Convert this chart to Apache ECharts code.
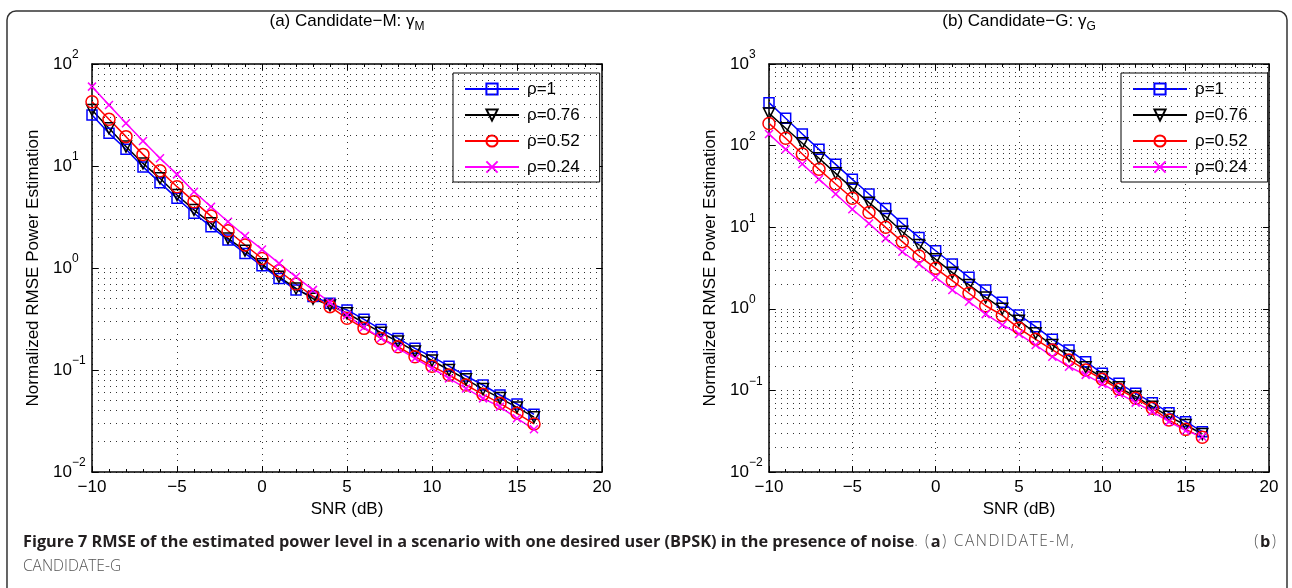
<!DOCTYPE html>
<html>
<head>
<meta charset="utf-8">
<script src="https://cdn.jsdelivr.net/npm/echarts@6/dist/echarts.min.js"></script>
<style>
html,body{margin:0;padding:0;background:#fff;}
#c{width:1292px;height:588px;}
</style>
</head>
<body>
<div id="c"></div>
<script>
// ---------- data ----------
const snr = [-10,-9,-8,-7,-6,-5,-4,-3,-2,-1,0,1,2,3,4,5,6,7,8,9,10,11,12,13,14,15,16];
const seriesNames = ['ρ=1','ρ=0.76','ρ=0.52','ρ=0.24'];

// panel (a) Candidate-M
const aRho1   = [31.6,20.9,14.6,9.8,6.87,4.82,3.44,2.54,1.88,1.39,1.05,0.79,0.61,0.525,0.45,0.388,0.314,0.25,0.204,0.163,0.135,0.109,0.0873,0.0713,0.0569,0.0464,0.0368];
const aRho076 = [35.4,23.4,15.5,10.6,7.57,5.2,3.71,2.74,1.95,1.48,1.09,0.82,0.63,0.5,0.43,0.36,0.29,0.232,0.19,0.152,0.124,0.1,0.081,0.065,0.053,0.043,0.0345];
const aRho052 = [42.7,28.7,19.4,13.0,9.0,6.27,4.47,3.23,2.32,1.68,1.24,0.94,0.697,0.531,0.418,0.321,0.256,0.204,0.169,0.135,0.109,0.0893,0.0713,0.0577,0.0471,0.0376,0.0296];
const aRho024 = [60,39.6,26.2,17.6,11.9,8.28,5.6,3.99,2.84,2.06,1.52,1.11,0.82,0.61,0.46,0.345,0.262,0.205,0.163,0.13,0.104,0.0828,0.066,0.0527,0.0436,0.0336,0.0262];

// panel (b) Candidate-G
const bRho1   = [336,216,139,90,58.9,38.6,25.5,17.0,11.1,7.5,5.15,3.54,2.43,1.70,1.2,0.84,0.604,0.423,0.313,0.225,0.162,0.122,0.092,0.0708,0.0534,0.0414,0.0312];
const bRho076 = [248,163,107,69.9,45.7,29.9,20.0,13.5,8.8,6.05,4.04,2.77,1.96,1.38,1.0,0.716,0.501,0.36,0.264,0.192,0.145,0.109,0.0838,0.0632,0.0477,0.0377,0.0292];
const bRho052 = [187,123,78.9,51.2,33.8,22.6,15.1,9.96,6.65,4.44,3.13,2.21,1.55,1.09,0.83,0.577,0.423,0.313,0.236,0.178,0.137,0.103,0.08,0.0603,0.0433,0.0333,0.0266];
const bRho024 = [139,90,59.5,38.6,25.5,16.6,11.1,7.3,5.0,3.54,2.43,1.70,1.22,0.86,0.634,0.491,0.36,0.259,0.195,0.155,0.12,0.092,0.0708,0.055,0.0414,0.0321,0.0271];

const titleA = '(a) Candidate−M: γ';
const titleASub = 'M';
const titleB = '(b) Candidate−G: γ';
const titleBSub = 'G';
const xName = 'SNR (dB)';
const yName = 'Normalized RMSE Power Estimation';
const captionBold = 'Figure 7 RMSE of the estimated power level in a scenario with one desired user (BPSK) in the presence of noise';

// ---------- styling ----------
const F = "'Liberation Sans', Arial, sans-serif";
const CF = "'Open Sans', 'Noto Sans', sans-serif";
const styles = [
  {color:'#0000ff', symbol:'rect', size:10, rotate:0},
  {color:'#000000', symbol:'triangle', size:11, rotate:180},
  {color:'#ff0000', symbol:'circle', size:12, rotate:0},
  {color:'#ff00ff', symbol:'path://M0,0L10,10M10,0L0,10', size:8, rotate:0}
];
const grids = [
  {left:92, top:64, width:510, height:408},
  {left:769, top:64, width:500, height:408}
];
const yRanges = [[0.01,100],[0.01,1000]];

function supLabel(v){
  const e = Math.round(Math.log10(v));
  return '{b|10}{s|' + (e < 0 ? '−' + (-e) : String(e)) + '}';
}
const dotted = {type:[1,5], color:'#333', width:1};

const xAxes = [], yAxes = [], series = [], legends = [];
grids.forEach((g, gi) => {
  xAxes.push({
    type:'value', gridIndex:gi, min:-10, max:20, interval:5, position:'bottom',
    name:xName, nameLocation:'middle', nameGap:22,
    nameTextStyle:{fontFamily:F, fontSize:17, color:'#000'},
    axisLine:{show:true, onZero:false, lineStyle:{color:'#000', width:1.5}},
    axisTick:{show:true, inside:true, length:6, lineStyle:{color:'#000'}},
    minorTick:{show:true, splitNumber:5, length:3, lineStyle:{color:'#000'}},
    axisLabel:{fontFamily:F, fontSize:17, color:'#000', margin:7,
      formatter: v => String(v).replace('-', '−')},
    splitLine:{show:true, lineStyle:dotted}
  });
  xAxes.push({
    type:'value', gridIndex:gi, min:-10, max:20, interval:5, position:'top',
    axisLine:{show:true, onZero:false, lineStyle:{color:'#000', width:1.5}},
    axisTick:{show:true, inside:true, length:6, lineStyle:{color:'#000'}},
    minorTick:{show:true, splitNumber:5, length:3, lineStyle:{color:'#000'}},
    axisLabel:{show:false}, splitLine:{show:false}
  });
  yAxes.push({
    type:'log', logBase:10, gridIndex:gi, min:yRanges[gi][0], max:yRanges[gi][1], position:'left',
    name:yName, nameLocation:'middle', nameGap:50, nameRotate:90,
    nameTextStyle:{fontFamily:F, fontSize:17, color:'#000'},
    axisLine:{show:true, onZero:false, lineStyle:{color:'#000', width:1.5}},
    axisTick:{show:true, inside:true, length:6, lineStyle:{color:'#000'}},
    axisLabel:{formatter:supLabel, align:'left', margin:39,
      rich:{
        b:{fontFamily:F, fontSize:17, color:'#000', lineHeight:17},
        s:{fontFamily:F, fontSize:12, color:'#000', lineHeight:12, padding:[0,0,18,0]}
      }},
    splitLine:{show:true, lineStyle:dotted}
  });
  yAxes.push({
    type:'log', logBase:10, gridIndex:gi, min:yRanges[gi][0], max:yRanges[gi][1], position:'right',
    axisLine:{show:true, onZero:false, lineStyle:{color:'#000', width:1.5}},
    axisTick:{show:true, inside:true, length:6, lineStyle:{color:'#000'}},
    axisLabel:{show:false}, splitLine:{show:false}
  });
});

// minor (2..9) horizontal dotted grid lines for each log axis
grids.forEach((g, gi) => {
  const lo = Math.round(Math.log10(yRanges[gi][0]));
  const hi = Math.round(Math.log10(yRanges[gi][1]));
  const marks = [];
  for (let k = lo; k < hi; k++) {
    for (let m = 2; m <= 9; m++) marks.push({yAxis: m * Math.pow(10, k)});
  }
  series.push({
    type:'line', name:'_minor' + gi, xAxisIndex:gi*2, yAxisIndex:gi*2, data:[], z:1,
    silent:true,
    markLine:{silent:true, symbol:['none','none'], label:{show:false},
      lineStyle:dotted, emphasis:{disabled:true}, animation:false, data:marks}
  });
});

const panelData = [
  [aRho1, aRho076, aRho052, aRho024],
  [bRho1, bRho076, bRho052, bRho024]
];
panelData.forEach((arrs, gi) => {
  arrs.forEach((arr, si) => {
    const st = styles[si];
    series.push({
      type:'line', name:seriesNames[si], xAxisIndex:gi*2, yAxisIndex:gi*2,
      data: snr.map((x, i) => [x, arr[i]]),
      symbol:st.symbol, symbolSize:st.size, symbolRotate:st.rotate, showAllSymbol:true,
      lineStyle:{color:st.color, width:1.5},
      itemStyle:{color:'rgba(0,0,0,0)', borderColor:st.color, borderWidth:1.5},
      emphasis:{disabled:true}, z:3
    });
  });
});

const legendLefts = [453, 1121];
legendLefts.forEach((lx) => {
  legends.push({
    data:seriesNames, orient:'vertical', left:lx, top:73,
    itemWidth:54, itemHeight:14, itemGap:8, padding:[7,20,6,11],
    borderColor:'#000', borderWidth:1, backgroundColor:'#fff',
    selectedMode:false,
    textStyle:{fontFamily:F, fontSize:17, color:'#000', lineHeight:18, padding:[0,0,0,3]}
  });
});

// ---------- caption ----------
const mctx = document.createElement('canvas').getContext('2d');
function fw(t, font){ mctx.font = font; return mctx.measureText(t).width; }
const graphics = [];
// bold part laid out with natural spacing, sized to end near x=915
const boldTarget = 915 - 23;
let bSize = 16;
bSize = Math.max(13, Math.min(18, bSize * boldTarget / fw(captionBold, 'bold 16px ' + CF)));
const fontB = 'bold ' + bSize.toFixed(2) + 'px ' + CF;
const fontN = '300 15.5px ' + CF;
const colB = '#231f20', colN = '#555';
function txt(t, x, y, font, fill){
  graphics.push({type:'text', x:x, y:y, silent:true,
    style:{text:t, font:font, fill:fill, textAlign:'left', textVerticalAlign:'middle'}});
}
txt(captionBold, 23, 542, fontB, colB);
let cx = 23 + fw(captionBold, fontB);
txt('.', cx, 542, fontN, colN);
cx += fw('.', fontN) + 7;
const track = 1.5;
function pieces(list, x){
  list.forEach(p => {
    const f = p[1] ? fontB : fontN;
    txt(p[0], x, 542, f, p[1] ? colB : colN);
    x += fw(p[0], f) + track;
  });
  return x;
}
function piecesW(list){ return list.reduce((s, p) => s + fw(p[0], p[1] ? fontB : fontN) + track, 0) - track; }
const partA = [['(', false], ['a', true], [')', false]];
const partM = 'CANDIDATE-M,'.split('').map(c => [c, false]);
const partB = [['(', false], ['b', true], [')', false]];
cx = pieces(partA, cx) + 6;
pieces(partM, cx);
pieces(partB, 1276 - piecesW(partB));
txt('CANDIDATE-G', 23, 567, fontN, colN);

// outer rounded frame
graphics.push({type:'rect', silent:true, shape:{x:7, y:11, width:1280, height:640, r:9},
  style:{fill:'none', stroke:'#333', lineWidth:1.5}, z:-1});

// panel titles
[[titleA, titleASub, 347], [titleB, titleBSub, 1019]].forEach(t => {
  graphics.push({type:'text', x:t[2], y:21, silent:true,
    style:{text:'{t|' + t[0] + '}{s|' + t[1] + '}', textAlign:'center', textVerticalAlign:'middle',
      rich:{
        t:{fontFamily:F, fontSize:17, fill:'#000', lineHeight:17},
        s:{fontFamily:F, fontSize:12, fill:'#000', lineHeight:12, padding:[12,0,0,0]}
      }}});
});

const chart = echarts.init(document.getElementById('c'), null, {renderer:'canvas'});
chart.setOption({
  animation:false,
  backgroundColor:'#fff',
  grid:grids,
  xAxis:xAxes,
  yAxis:yAxes,
  legend:legends,
  series:series,
  graphic:graphics
});
</script>
</body>
</html>
